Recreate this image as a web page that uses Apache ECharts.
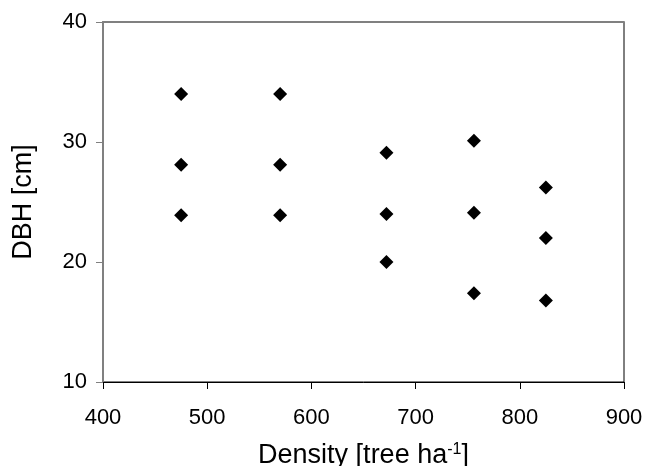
<!DOCTYPE html>
<html>
<head>
<meta charset="utf-8">
<script src="https://cdn.jsdelivr.net/npm/echarts@6/dist/echarts.min.js"></script>
<style>
  html, body { margin: 0; padding: 0; background: #fff; }
  #chart { width: 647px; height: 466px; }
</style>
</head>
<body>
<div id="chart"></div>
<script>
  // 数据
  var density = [475, 475, 475, 570, 570, 570, 672, 672, 672, 756, 756, 756, 825, 825, 825];
  var dbh = [34.0, 28.1, 23.9, 34.0, 28.1, 23.9, 29.1, 24.0, 20.0, 30.1, 24.1, 17.4, 26.2, 22.0, 16.8];
  var xTicks = [400, 500, 600, 700, 800, 900];
  var yTicks = [10, 20, 30, 40];

  var points = density.map(function (d, i) { return [d, dbh[i]]; });

  var myChart = echarts.init(document.getElementById('chart'));
  var font = 'Liberation Sans, Arial, sans-serif';
  myChart.setOption({
    animation: false,
    grid: {
      left: 103,
      right: 23,
      top: 22,
      bottom: 84,
      outerBoundsMode: 'none',
      containLabel: false,
      show: true,
      borderColor: '#000',
      borderWidth: 1
    },
    xAxis: [{
      type: 'value',
      min: xTicks[0],
      max: xTicks[xTicks.length - 1],
      interval: 100,
      name: 'Density [tree ha{sup|-1}]',
      nameLocation: 'middle',
      nameGap: 60,
      nameTextStyle: {
        fontFamily: font,
        fontSize: 27,
        color: '#000',
        rich: {
          sup: { fontFamily: font, fontSize: 16, color: '#000', padding: [0, 0, 12, 0] }
        }
      },
      axisLine: { lineStyle: { color: '#000', width: 1 } },
      axisTick: { inside: false, length: 7, lineStyle: { color: '#000' } },
      axisLabel: { fontFamily: font, fontSize: 22, color: '#000', margin: 25 },
      splitLine: { show: false }
    }, {
      // 顶部边框（灰色）
      type: 'value',
      position: 'top',
      min: xTicks[0],
      max: xTicks[xTicks.length - 1],
      axisLine: { lineStyle: { color: '#808080', width: 2 } },
      axisTick: { show: false },
      axisLabel: { show: false },
      splitLine: { show: false }
    }],
    yAxis: {
      type: 'value',
      min: yTicks[0],
      max: yTicks[yTicks.length - 1],
      interval: 10,
      name: 'DBH [cm]',
      nameLocation: 'middle',
      nameGap: 66,
      nameTextStyle: { fontFamily: font, fontSize: 27, color: '#000' },
      axisLine: { show: true, lineStyle: { color: '#808080', width: 2 } },
      axisTick: { show: true, length: 7, lineStyle: { color: '#808080' } },
      axisLabel: { fontFamily: font, fontSize: 22, color: '#000', margin: 16 },
      splitLine: { show: false }
    },
    series: [{
      type: 'scatter',
      data: points,
      symbol: 'diamond',
      symbolSize: 14,
      itemStyle: { color: '#000', opacity: 1 }
    }]
  });
</script>
</body>
</html>
